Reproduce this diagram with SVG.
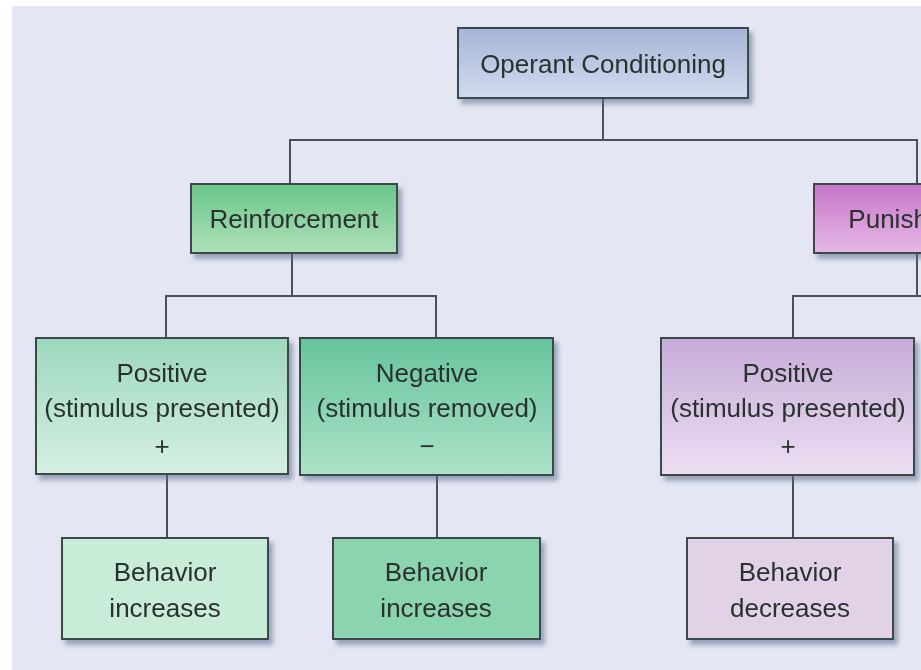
<svg xmlns="http://www.w3.org/2000/svg" width="921" height="670" viewBox="0 0 921 670">
<style>
.box{stroke:#3c4848;stroke-width:2}
.t{font-family:"Liberation Sans",Arial,sans-serif;font-size:26px;fill:#2a302e;text-anchor:middle}
.c{fill:none;stroke:#4a5058;stroke-width:2}
</style>
<defs>
<filter id="sh" x="-10%" y="-10%" width="130%" height="140%">
<feGaussianBlur in="SourceAlpha" stdDeviation="2.5"/>
<feOffset dx="4" dy="5" result="b"/>
<feFlood flood-color="#5a6a88" flood-opacity="0.55"/>
<feComposite in2="b" operator="in"/>
<feMerge><feMergeNode/><feMergeNode in="SourceGraphic"/></feMerge>
</filter>
<linearGradient id="gOp" x1="0" y1="0" x2="0" y2="1"><stop offset="0" stop-color="#a6b6d8"/><stop offset="1" stop-color="#d2daee"/></linearGradient>
<linearGradient id="gRe" x1="0" y1="0" x2="0" y2="1"><stop offset="0" stop-color="#6ac68a"/><stop offset="1" stop-color="#aee0b8"/></linearGradient>
<linearGradient id="gPu" x1="0" y1="0" x2="0" y2="1"><stop offset="0" stop-color="#c676c8"/><stop offset="1" stop-color="#e6b8e6"/></linearGradient>
<linearGradient id="gPg" x1="0" y1="0" x2="0" y2="1"><stop offset="0" stop-color="#9cd8bc"/><stop offset="1" stop-color="#d6f0e2"/></linearGradient>
<linearGradient id="gNg" x1="0" y1="0" x2="0" y2="1"><stop offset="0" stop-color="#66c49c"/><stop offset="1" stop-color="#ace2c8"/></linearGradient>
<linearGradient id="gPp" x1="0" y1="0" x2="0" y2="1"><stop offset="0" stop-color="#c6acd8"/><stop offset="1" stop-color="#ecdef2"/></linearGradient>
</defs>
<rect x="0" y="0" width="921" height="670" fill="#ffffff"/>
<rect x="12" y="6" width="909" height="664" fill="#e4e7f3"/>
<g id="connectors">
<path class="c" d="M603 98V140M290 184V140H917V184"/>
<path class="c" d="M292 253V296M166 338V296H436V338"/>
<path class="c" d="M917 253V296M793 338V296H921"/>
<path class="c" d="M167 474V538M437 475V538M793 475V538"/>
</g>
<g id="operant" filter="url(#sh)">
<rect class="box" x="458" y="28" width="290" height="70" fill="url(#gOp)"/>
<text class="t" x="603" y="73">Operant Conditioning</text>
</g>
<g id="reinforcement" filter="url(#sh)">
<rect class="box" x="191" y="184" width="206" height="69" fill="url(#gRe)"/>
<text class="t" x="294" y="228">Reinforcement</text>
</g>
<g id="punishment" filter="url(#sh)">
<rect class="box" x="814" y="184" width="206" height="69" fill="url(#gPu)"/>
<text class="t" x="917" y="228">Punishment</text>
</g>
<g id="reinf-positive" filter="url(#sh)">
<rect class="box" x="36" y="338" width="252" height="136" fill="url(#gPg)"/>
<text class="t" x="162" y="382">Positive</text>
<text class="t" x="162" y="417">(stimulus presented)</text>
<text class="t" x="162" y="455">+</text>
</g>
<g id="reinf-negative" filter="url(#sh)">
<rect class="box" x="300" y="338" width="253" height="137" fill="url(#gNg)"/>
<text class="t" x="427" y="382">Negative</text>
<text class="t" x="427" y="417">(stimulus removed)</text>
<text class="t" x="427" y="455">−</text>
</g>
<g id="pun-positive" filter="url(#sh)">
<rect class="box" x="661" y="338" width="253" height="137" fill="url(#gPp)"/>
<text class="t" x="788" y="382">Positive</text>
<text class="t" x="788" y="417">(stimulus presented)</text>
<text class="t" x="788" y="455">+</text>
</g>
<g id="beh-inc-1" filter="url(#sh)">
<rect class="box" x="62" y="538" width="206" height="101" fill="#c8ecd8"/>
<text class="t" x="165" y="581">Behavior</text>
<text class="t" x="165" y="617">increases</text>
</g>
<g id="beh-inc-2" filter="url(#sh)">
<rect class="box" x="333" y="538" width="207" height="101" fill="#8ad4b0"/>
<text class="t" x="436" y="581">Behavior</text>
<text class="t" x="436" y="617">increases</text>
</g>
<g id="beh-dec" filter="url(#sh)">
<rect class="box" x="687" y="538" width="206" height="101" fill="#e2d2e8"/>
<text class="t" x="790" y="581">Behavior</text>
<text class="t" x="790" y="617">decreases</text>
</g>
</svg>
